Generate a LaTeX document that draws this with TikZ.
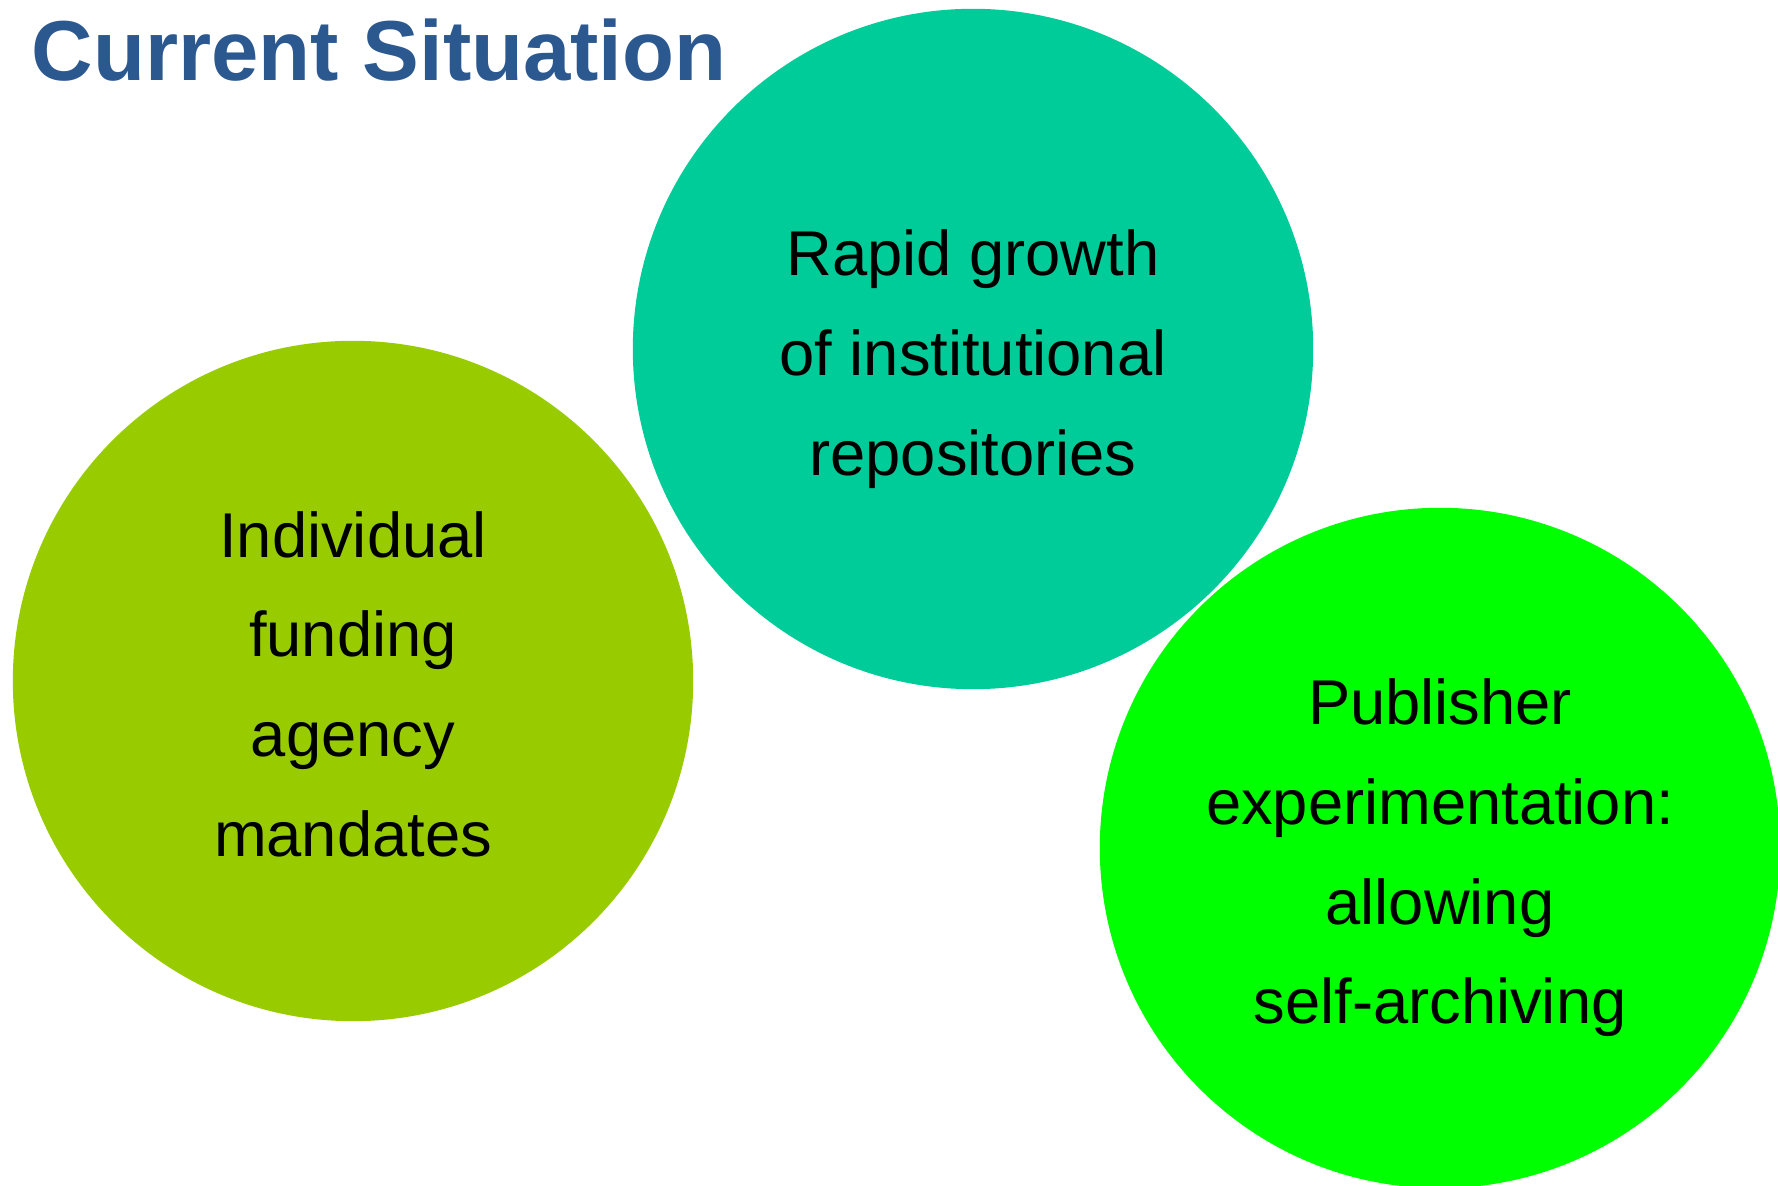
\documentclass[tikz,border=0pt]{standalone}
\usepackage{fontspec}
\setmainfont{Liberation Sans}

\definecolor{titleblue}{HTML}{2C5890}
\definecolor{olivegreen}{HTML}{99CC00}
\definecolor{teal}{HTML}{00CC99}
\definecolor{brightgreen}{HTML}{00FF00}

\tikzset{
    bubble/.style={circle, minimum size=6.8cm, inner sep=0pt, align=center,
        font=\fontsize{18}{28.35}\selectfont},
}

\begin{document}
\begin{tikzpicture}[x=0.01cm, y=-0.01cm]
        \useasboundingbox (0,0) rectangle (1778,1186);

        \node[anchor=base west, inner sep=0pt, text=titleblue,
              font=\fontsize{24.2}{30}\selectfont\bfseries] (title) at (31,81)
              {Current Situation};

        \node[bubble, fill=teal] (repos) at (973,349) {};
        \node[bubble, fill=olivegreen] (mandates) at (353,681) {};
        \node[bubble, fill=brightgreen] (publisher) at (1440,848) {};

        \node[font=\fontsize{18}{28.35}\selectfont, align=center]
            at ([yshift=-0.1cm]repos.center)
            {Rapid growth\\of institutional\\repositories};
        \node[font=\fontsize{18}{28.35}\selectfont, align=center]
            at ([yshift=-0.03cm]mandates.center)
            {Individual\\funding\\agency\\mandates};
        \node[font=\fontsize{18}{28.35}\selectfont, align=center]
            at ([yshift=-0.1cm]publisher.center)
            {Publisher\\experimentation:\\allowing\\self-archiving};
    \end{tikzpicture}
\end{document}
